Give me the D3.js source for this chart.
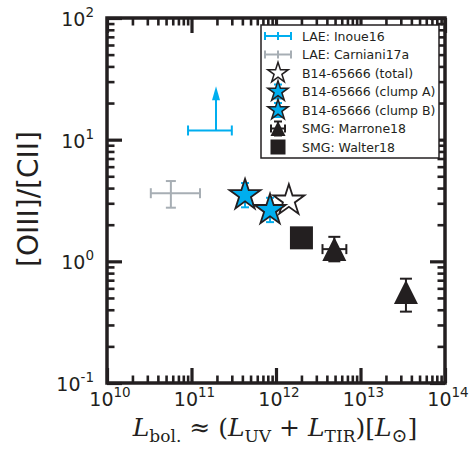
<!DOCTYPE html>
<html lang="en">
<head>
<meta charset="UTF-8">
<title>OIII/CII vs Lbol</title>
<script src="https://d3js.org/d3.v7.min.js"></script>
<style>
  body { margin: 0; background: #fff; }
  text { font-family: "DejaVu Sans", sans-serif; fill: #231f20; }
  .math { font-family: "DejaVu Serif", "Liberation Serif", serif; }
</style>
</head>
<body>
<svg width="472" height="457"></svg>
<script>
// ---- data ----
var xMajor = [1e10, 1e11, 1e12, 1e13, 1e14];
var xExp = [10, 11, 12, 13, 14];
var yMajor = [0.1, 1, 10, 100];
var yExp = ["-1", "0", "1", "2"];

// LAE Inoue16 (lower limit in y)
var inoue = [{ x: 1.95e11, xlo: 0.91e11, xhi: 3.0e11, y: 11.9, ytip: 27.5 }];
// LAE Carniani17a
var carniani = [{ x: 5.7e10, xlo: 3.3e10, xhi: 1.26e11, y: 3.63, ylo: 2.76, yhi: 4.57 }];
// B14-65666
var starTotal = [{ x: 1.42e12, y: 3.16 }];
var starClumps = [
  { x: 4.3e11, y: 3.5, ylo: 2.78, yhi: 4.4 },
  { x: 8.5e11, y: 2.64, ylo: 2.1, yhi: 3.33 }
];
// SMG Marrone18
var marrone = [
  { x: 4.9e12, xlo: 3.55e12, xhi: 6.8e12, y: 1.26, ylo: 1.0, yhi: 1.59 },
  { x: 3.45e13, xlo: 3.45e13, xhi: 3.45e13, y: 0.56, ylo: 0.386, yhi: 0.72 }
];
// SMG Walter18
var walter = [{ x: 2.0e12, y: 1.56 }];

var legendLabels = ["LAE: Inoue16", "LAE: Carniani17a", "B14-65666 (total)",
  "B14-65666 (clump A)", "B14-65666 (clump B)", "SMG: Marrone18", "SMG: Walter18"];

var blue = "#00aeef", grey = "#a7aeb4", black = "#231f20";

var svg = d3.select("svg");
var pLeft = 107, pRight = 445, pTop = 18, pBottom = 383;

var x = d3.scaleLog().domain([1e10, 1e14]).range([pLeft, pRight]);
var y = d3.scaleLog().domain([0.1, 100]).range([pBottom, pTop]);

function minors(lo, hi) {
  var out = [];
  for (var e = lo; e < hi; e++)
    for (var m = 2; m <= 9; m++) out.push(m * Math.pow(10, e));
  return out;
}
var xMinor = minors(10, 14), yMinor = minors(-1, 2);

// ---- ticks (inward, on all four sides) ----
function tickAxes(axisFn, scale, translate, vals) {
  svg.append("g").attr("transform", translate)
    .call(axisFn(scale).tickValues(vals.minor).tickSize(-7.5).tickFormat(""))
    .call(function (g) { g.select(".domain").remove(); g.selectAll("line").attr("stroke", black).attr("stroke-width", 2.6); });
  svg.append("g").attr("transform", translate)
    .call(axisFn(scale).tickValues(vals.major).tickSize(-15).tickFormat(""))
    .call(function (g) { g.select(".domain").remove(); g.selectAll("line").attr("stroke", black).attr("stroke-width", 3.2); });
}
tickAxes(d3.axisBottom, x, "translate(0," + pBottom + ")", { major: xMajor, minor: xMinor });
tickAxes(d3.axisTop, x, "translate(0," + pTop + ")", { major: xMajor, minor: xMinor });
tickAxes(d3.axisLeft, y, "translate(" + pLeft + ",0)", { major: yMajor, minor: yMinor });
tickAxes(d3.axisRight, y, "translate(" + pRight + ",0)", { major: yMajor, minor: yMinor });

svg.append("rect")
  .attr("x", pLeft).attr("y", pTop)
  .attr("width", pRight - pLeft).attr("height", pBottom - pTop)
  .attr("fill", "none").attr("stroke", black).attr("stroke-width", 3.5);

// ---- tick labels ----
xMajor.forEach(function (v, i) {
  var t = svg.append("text").attr("x", x(v) + 3).attr("y", 406)
    .attr("text-anchor", "middle").attr("font-size", 19);
  t.append("tspan").text("10");
  t.append("tspan").attr("dy", -9).attr("font-size", 13.5).text(xExp[i]);
});
yMajor.forEach(function (v, i) {
  var t = svg.append("text").attr("x", 94).attr("y", y(v) + 8)
    .attr("text-anchor", "end").attr("font-size", 19);
  t.append("tspan").text("10");
  t.append("tspan").attr("dy", -9).attr("font-size", 13.5).text(yExp[i]);
});

// ---- axis titles ----
svg.append("text")
  .attr("transform", "translate(38,199) rotate(-90)")
  .attr("text-anchor", "middle").attr("font-size", 28)
  .text("[OIII]/[CII]");

var xt = svg.append("text").attr("class", "math")
  .attr("x", 275).attr("y", 436).attr("text-anchor", "middle").attr("font-size", 25);
xt.append("tspan").attr("font-style", "italic").text("L");
xt.append("tspan").attr("dy", 6).attr("font-size", 17).text("bol.");
xt.append("tspan").attr("dy", -6).text(" ≈ (");
xt.append("tspan").attr("font-style", "italic").text("L");
xt.append("tspan").attr("dy", 6).attr("font-size", 17).text("UV");
xt.append("tspan").attr("dy", -6).text(" + ");
xt.append("tspan").attr("font-style", "italic").text("L");
xt.append("tspan").attr("dy", 6).attr("font-size", 17).text("TIR");
xt.append("tspan").attr("dy", -6).text(")[");
xt.append("tspan").attr("font-style", "italic").text("L");
xt.append("tspan").attr("dy", 6).attr("font-size", 19).text("⊙");
xt.append("tspan").attr("dy", -6).text("]");

// ---- helpers ----
function capsH(g, x1, x2, yy, col, cap) {
  g.append("line").attr("x1", x1).attr("x2", x2).attr("y1", yy).attr("y2", yy).attr("stroke", col).attr("stroke-width", 2);
  [x1, x2].forEach(function (xx) {
    g.append("line").attr("x1", xx).attr("x2", xx).attr("y1", yy - cap).attr("y2", yy + cap).attr("stroke", col).attr("stroke-width", 2);
  });
}
function capsV(g, xx, y1, y2, col, cap) {
  g.append("line").attr("x1", xx).attr("x2", xx).attr("y1", y1).attr("y2", y2).attr("stroke", col).attr("stroke-width", 2);
  [y1, y2].forEach(function (yy) {
    g.append("line").attr("x1", xx - cap).attr("x2", xx + cap).attr("y1", yy).attr("y2", yy).attr("stroke", col).attr("stroke-width", 2);
  });
}
var starPath = d3.symbol().type(d3.symbolStar).size(300)();
var starSmall = d3.symbol().type(d3.symbolStar).size(130)();
function triPath(h) { return "M0," + (-h) + "L" + (-h) + "," + h + "L" + h + "," + h + "Z"; }

var plot = svg.append("g");

// Carniani17a
carniani.forEach(function (d) {
  capsH(plot, x(d.xlo), x(d.xhi), y(d.y), grey, 5);
  capsV(plot, x(d.x), y(d.yhi), y(d.ylo), grey, 5);
});
// Inoue16 with upward arrow
inoue.forEach(function (d) {
  capsH(plot, x(d.xlo), x(d.xhi), y(d.y), blue, 5);
  plot.append("line").attr("x1", x(d.x)).attr("x2", x(d.x))
    .attr("y1", y(d.y)).attr("y2", y(d.ytip) + 12).attr("stroke", blue).attr("stroke-width", 2);
  plot.append("path")
    .attr("d", "M" + x(d.x) + "," + y(d.ytip) + "l-4,14l8,0z").attr("fill", blue);
});
// Marrone18
marrone.forEach(function (d) {
  capsV(plot, x(d.x), y(d.yhi), y(d.ylo), black, 6);
  if (d.xhi > d.xlo) capsH(plot, x(d.xlo), x(d.xhi), y(d.y), black, 5);
  plot.append("path").attr("d", triPath(12))
    .attr("transform", "translate(" + x(d.x) + "," + y(d.y) + ")")
    .attr("fill", black);
});
// Walter18
walter.forEach(function (d) {
  plot.append("rect").attr("x", x(d.x) - 11.5).attr("y", y(d.y) - 11.5)
    .attr("width", 23).attr("height", 23).attr("fill", black);
});
// total star (behind clumps)
starTotal.forEach(function (d) {
  plot.append("path").attr("d", starPath)
    .attr("transform", "translate(" + x(d.x) + "," + y(d.y) + ")")
    .attr("fill", "#fff").attr("stroke", black).attr("stroke-width", 1.8);
});
// clumps
starClumps.forEach(function (d) {
  capsV(plot, x(d.x), y(d.yhi), y(d.ylo), blue, 4);
});
starClumps.forEach(function (d) {
  plot.append("path").attr("d", starPath)
    .attr("transform", "translate(" + x(d.x) + "," + y(d.y) + ")")
    .attr("fill", blue).attr("stroke", black).attr("stroke-width", 1.8);
});

// ---- legend ----
var lg = svg.append("g");
lg.append("rect").attr("x", 261).attr("y", 25).attr("width", 178).attr("height", 133)
  .attr("fill", "#fff").attr("stroke", black).attr("stroke-width", 1.5);
var rowY = function (i) { return 36 + i * 18.5; };
var mx = 278;
legendLabels.forEach(function (lab, i) {
  lg.append("text").attr("x", 302).attr("y", rowY(i) + 4.5)
    .attr("font-size", 12.5).text(lab);
});
[blue, grey].forEach(function (col, i) {
  capsH(lg, mx - 13, mx + 13, rowY(i), col, 4);
  lg.append("line").attr("x1", mx).attr("x2", mx).attr("y1", rowY(i) - 4).attr("y2", rowY(i) + 4)
    .attr("stroke", col).attr("stroke-width", 2);
});
lg.append("path").attr("d", starSmall).attr("transform", "translate(" + mx + "," + rowY(2) + ")")
  .attr("fill", "#fff").attr("stroke", black).attr("stroke-width", 1.5);
[3, 4].forEach(function (i) {
  capsV(lg, mx, rowY(i) - 7, rowY(i) + 7, blue, 4);
  lg.append("path").attr("d", starSmall).attr("transform", "translate(" + mx + "," + rowY(i) + ")")
    .attr("fill", blue).attr("stroke", black).attr("stroke-width", 1.5);
});
capsV(lg, mx, rowY(5) - 7, rowY(5) + 7, black, 4);
capsH(lg, mx - 7, mx + 7, rowY(5), black, 4);
lg.append("path").attr("d", triPath(7.5)).attr("transform", "translate(" + mx + "," + rowY(5) + ")")
  .attr("fill", black);
lg.append("rect").attr("x", mx - 7.5).attr("y", rowY(6) - 7.5).attr("width", 15).attr("height", 15)
  .attr("fill", black);
</script>
</body>
</html>
